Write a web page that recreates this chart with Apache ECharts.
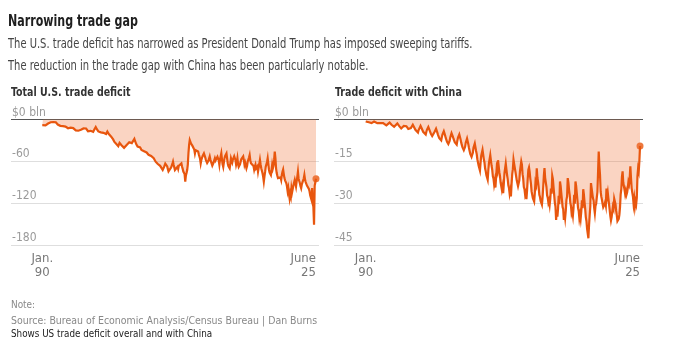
<!DOCTYPE html>
<html><head><meta charset="utf-8">
<script src="https://cdn.jsdelivr.net/npm/echarts@6/dist/echarts.min.js"></script>
<style>html,body{margin:0;padding:0;background:#fff}#c{width:683px;height:355px}</style>
</head><body><div id="c"></div>
<script>
// Monthly goods trade balance, $ bln, Jan 1990 .. June 2025 (one row per year)
const totalDeficit = [
-8.2,-9.1,-7.6,-9.8,-10.2,-8.5,-7.4,-8.6,-6.9,-5.8,-4.9,-4.2,
-5.6,-3.9,-4.8,-6.2,-5.1,-3.6,-3.1,-4.4,-5.3,-4.0,-5.8,-6.6,
-7.2,-6.1,-8.4,-7.6,-9.1,-8.3,-7.0,-8.8,-9.6,-10.4,-9.2,-10.8,
-10.1,-11.3,-9.8,-11.9,-12.6,-11.4,-10.5,-12.2,-11.7,-13.1,-12.0,-11.2,
-12.4,-13.8,-14.9,-13.5,-15.6,-14.2,-13.3,-14.9,-16.1,-14.6,-13.8,-15.3,
-14.8,-13.9,-15.7,-14.3,-12.8,-13.6,-12.1,-11.0,-12.9,-14.2,-15.6,-16.8,
-15.4,-16.5,-17.9,-16.2,-14.7,-15.8,-16.9,-17.6,-15.9,-14.1,-12.3,-10.8,
-12.6,-14.2,-15.9,-17.1,-16.3,-15.2,-16.8,-18.4,-17.5,-16.2,-17.8,-19.1,
-18.2,-17.4,-19.6,-20.8,-18.5,-17.2,-18.9,-20.6,-22.1,-23.4,-21.8,-24.6,
-25.8,-27.1,-28.6,-30.4,-32.2,-31.0,-33.5,-35.1,-33.9,-36.4,-38.2,-37.0,
-33.6,-35.1,-34.2,-36.8,-35.9,-37.4,-38.9,-40.6,-41.8,-40.2,-38.1,-36.5,
-35.2,-33.8,-34.9,-32.6,-31.1,-29.8,-31.5,-33.9,-36.2,-34.8,-31.2,-27.9,
-30.8,-33.4,-35.6,-37.2,-38.9,-37.6,-39.8,-41.2,-40.1,-42.3,-43.6,-41.9,
-44.2,-42.8,-45.5,-46.8,-44.9,-46.1,-47.3,-45.8,-48.2,-50.6,-49.4,-51.8,
-50.2,-52.4,-51.6,-53.8,-51.2,-55.6,-58.1,-56.4,-60.5,-58.9,-61.8,-63.5,
-62.1,-64.8,-63.2,-66.5,-65.1,-68.2,-66.9,-72.3,-70.6,-68.4,-66.2,-63.4,
-65.8,-63.0,-67.4,-71.2,-74.5,-73.2,-77.0,-72.6,-68.9,-66.1,-63.8,-60.5,
-65.2,-68.7,-72.4,-75.0,-71.3,-69.6,-67.8,-70.9,-66.4,-64.2,-68.5,-65.7,
-63.0,-67.4,-70.8,-74.6,-72.1,-78.3,-89.0,-80.2,-76.8,-72.5,-64.3,-48.0,
-36.5,-29.5,-31.8,-34.6,-33.2,-37.5,-40.1,-38.6,-43.2,-48.5,-44.0,-41.2,
-45.5,-42.0,-46.0,-49.8,-53.0,-56.4,-63.0,-58.1,-55.7,-52.3,-50.1,-48.5,
-48.5,-54.2,-57.8,-60.5,-62.4,-65.0,-59.3,-56.1,-53.0,-57.4,-60.5,-63.2,
-66.1,-68.0,-61.7,-58.6,-55.7,-58.9,-60.5,-56.2,-53.4,-51.0,-58.8,-65.0,
-57.3,-54.6,-48.5,-56.9,-64.2,-68.0,-61.4,-55.7,-52.1,-50.2,-48.5,-55.9,
-63.0,-66.8,-68.5,-70.0,-63.4,-55.7,-58.2,-61.6,-57.3,-54.8,-52.6,-51.0,
-58.4,-65.0,-61.3,-55.7,-63.8,-67.9,-70.0,-64.2,-60.5,-57.1,-55.4,-59.6,
-53.0,-58.6,-65.0,-61.8,-63.4,-70.0,-66.7,-60.5,-57.9,-54.6,-51.0,-58.3,
-62.7,-65.0,-60.5,-63.9,-66.8,-72.0,-68.1,-65.0,-70.2,-71.5,-67.3,-74.7,
-69.2,-63.8,-58.0,-64.5,-70.0,-73.6,-77.0,-82.1,-89.0,-81.4,-75.2,-67.6,
-67.6,-61.0,-55.7,-63.9,-72.0,-76.1,-74.3,-79.5,-72.8,-65.0,-70.2,-66.4,
-58.0,-46.0,-55.2,-70.0,-76.9,-80.8,-84.0,-82.6,-81.8,-84.3,-83.0,-86.6,
-79.6,-75.1,-72.0,-78.4,-84.0,-87.3,-89.5,-91.4,-96.2,-103.0,-98.4,-106.5,
-113.0,-106.2,-110.4,-98.5,-103.8,-101.0,-94.2,-92.8,-86.6,-91.5,-96.0,-88.7,
-82.4,-75.0,-84.9,-88.3,-91.4,-95.6,-98.5,-93.2,-90.1,-89.0,-84.6,-79.5,
-86.2,-89.8,-91.4,-94.7,-93.1,-96.0,-99.7,-103.0,-108.6,-111.2,-115.0,-98.5,
-118.0,-126.0,-151.0,-95.0,-90.0,-85.0
];
const chinaDeficit = [
-0.7,-0.5,-0.6,-0.8,-0.9,-1.0,-1.1,-1.1,-1.2,-1.3,-1.1,-0.9,
-1.0,-0.7,-0.6,-0.9,-1.1,-1.2,-1.3,-1.4,-1.5,-1.6,-1.3,-1.1,
-1.3,-0.9,-0.8,-1.3,-1.5,-1.7,-1.9,-2.0,-2.1,-2.3,-1.9,-1.5,
-1.6,-1.1,-1.0,-1.6,-1.9,-2.2,-2.4,-2.5,-2.6,-2.8,-2.3,-1.9,
-2.0,-1.4,-1.3,-2.0,-2.4,-2.7,-3.0,-3.2,-3.3,-3.5,-2.8,-2.3,
-2.3,-1.6,-1.6,-2.4,-2.8,-3.1,-3.4,-3.6,-3.7,-3.9,-3.1,-2.6,
-2.7,-1.9,-1.8,-2.8,-3.3,-3.7,-4.1,-4.3,-4.4,-4.7,-3.8,-3.1,
-3.2,-2.3,-2.2,-3.3,-3.9,-4.4,-4.8,-5.1,-5.2,-5.4,-4.4,-3.6,
-3.7,-2.7,-2.7,-3.9,-4.6,-5.1,-5.6,-5.9,-6.0,-6.4,-5.2,-4.3,
-4.4,-3.3,-3.2,-4.7,-5.5,-6.1,-6.7,-7.1,-7.3,-7.5,-6.3,-5.3,
-5.4,-4.2,-4.1,-5.7,-6.6,-7.3,-8.0,-8.5,-8.8,-9.2,-7.7,-6.5,
-6.0,-4.9,-4.7,-6.1,-6.9,-7.5,-8.1,-8.5,-8.6,-9.0,-7.6,-6.5,
-7.0,-5.4,-5.2,-7.2,-8.3,-9.2,-10.0,-10.6,-11.0,-11.6,-9.8,-8.3,
-8.6,-6.8,-6.5,-8.9,-10.2,-11.3,-12.3,-13.0,-13.4,-14.0,-11.9,-10.1,
-10.8,-8.6,-8.2,-11.3,-12.4,-14.3,-15.0,-16.6,-16.0,-18.3,-15.4,-13.0,
-13.6,-10.9,-10.5,-14.2,-15.4,-17.6,-18.6,-20.0,-19.4,-21.6,-18.2,-15.6,
-16.1,-12.8,-13.5,-16.6,-18.0,-20.4,-21.2,-23.3,-22.0,-24.4,-20.8,-17.4,
-18.4,-14.6,-15.2,-18.9,-20.2,-22.5,-23.0,-25.2,-24.0,-26.4,-22.9,-19.2,
-19.8,-15.8,-16.0,-19.9,-21.4,-23.6,-24.6,-26.6,-25.4,-27.6,-23.2,-19.6,
-17.8,-14.4,-15.9,-16.4,-18.8,-19.2,-21.8,-21.4,-23.9,-24.6,-21.8,-18.6,
-18.1,-15.1,-16.2,-19.6,-21.2,-24.2,-25.0,-27.0,-26.2,-28.6,-25.4,-21.4,
-18.0,-17.2,-18.8,-21.2,-23.0,-25.8,-26.4,-28.2,-27.6,-29.4,-26.4,-22.6,
-23.4,-17.5,-20.8,-22.4,-24.4,-27.0,-27.8,-29.2,-28.6,-30.5,-28.0,-24.2,
-20.2,-17.4,-20.9,-21.6,-24.2,-27.2,-28.0,-29.8,-29.0,-30.6,-28.4,-24.8,
-26.6,-20.2,-21.4,-24.2,-27.0,-29.8,-31.2,-36.0,-32.4,-34.8,-32.0,-27.4,
-30.4,-22.2,-23.8,-26.4,-28.8,-31.4,-32.2,-36.0,-33.2,-35.2,-32.6,-28.8,
-27.6,-21.0,-22.6,-25.2,-27.0,-29.8,-31.0,-33.6,-32.8,-34.4,-31.6,-27.0,
-30.2,-22.2,-23.8,-26.4,-29.0,-31.8,-32.8,-35.4,-34.0,-35.6,-33.0,-29.0,
-31.8,-25.0,-26.8,-29.6,-32.0,-35.0,-36.4,-39.2,-38.8,-42.6,-38.0,-34.4,
-31.0,-22.8,-23.2,-26.4,-28.2,-29.0,-31.8,-33.6,-31.0,-30.2,-28.0,-26.0,
-26.4,-11.5,-16.4,-19.8,-26.0,-27.6,-28.8,-30.2,-31.4,-32.0,-30.4,-29.6,
-30.8,-24.8,-27.6,-26.2,-28.4,-30.4,-32.4,-34.6,-36.2,-35.0,-33.0,-31.2,
-32.0,-28.4,-28.8,-30.4,-32.8,-34.4,-36.4,-37.0,-35.6,-34.2,-31.4,-26.8,
-25.0,-20.6,-18.6,-22.6,-23.2,-25.2,-26.8,-25.6,-27.0,-26.2,-24.6,-22.4,
-23.2,-21.0,-16.8,-21.0,-24.6,-26.2,-27.6,-30.2,-28.4,-31.2,-29.4,-30.4,
-28.0,-20.4,-17.6,-18.6,-14.8,-9.5
];
const xTickMonths = [0, 425];
const xTickLabels = ['Jan.\n90', 'June\n25'];
const totalYTicks = [-180, -120, -60, 0];
const chinaYTicks = [-45, -30, -15, 0];

const FONT = "'DejaVu Sans Condensed','DejaVu Sans',sans-serif";
const LINE = '#e8560e';
const FILL = 'rgba(240,122,66,0.46)';

function yAxis(idx, ticks) {
  return {
    gridIndex: idx, type: 'value',
    min: ticks[0], max: ticks[ticks.length - 1], interval: ticks[1] - ticks[0],
    axisLine: {show: false}, axisTick: {show: false},
    splitLine: {show: true, lineStyle: {width: 1, color: ['#dedede', '#dedede', '#dedede', '#555555']}},
    axisLabel: {
      inside: true, margin: 1, verticalAlign: 'bottom', lineHeight: 14,
      color: '#9a9a9a', fontSize: 12, fontFamily: FONT,
      formatter: v => v === 0 ? '$0 bln' : String(v)
    }
  };
}
function xAxis(idx, mn, mx) {
  return {
    gridIndex: idx, type: 'value', min: mn, max: mx,
    axisLine: {show: false}, axisTick: {show: false}, splitLine: {show: false},
    axisLabel: {
      customValues: xTickMonths, margin: 7, lineHeight: 14,
      color: '#777', fontSize: 13, fontFamily: FONT,
      alignMaxLabel: 'right',
      formatter: v => xTickLabels[xTickMonths.indexOf(v)] || ''
    }
  };
}
function lineSeries(idx, arr) {
  return {
    type: 'line', xAxisIndex: idx, yAxisIndex: idx,
    data: arr.map((v, i) => [i, v]),
    symbol: 'none', lineStyle: {color: LINE, width: 2.2, join: 'miter'},
    areaStyle: {color: FILL}, silent: true, animation: false
  };
}
function endDot(idx, arr) {
  return {
    type: 'scatter', xAxisIndex: idx, yAxisIndex: idx,
    data: [[arr.length - 1, arr[arr.length - 1]]],
    symbol: 'circle', symbolSize: 7, itemStyle: {color: LINE}, silent: true, animation: false
  };
}
function txt(x, y, s, font, fill, sx) {
  return {type: 'text', x: x, y: y, scaleX: sx, silent: true,
    style: {text: s, font: font, fill: fill, verticalAlign: 'middle', align: 'left'}};
}

const chart = echarts.init(document.getElementById('c'), null, {renderer: 'canvas'});
chart.setOption({
  animation: false,
  backgroundColor: '#fff',
  grid: [
    {left: 11, top: 119.5, width: 308, height: 125.5},
    {left: 334, top: 119.5, width: 309, height: 125.5}
  ],
  xAxis: [xAxis(0, -48.6, 429.7), xAxis(1, -49.1, 429.6)],
  yAxis: [yAxis(0, totalYTicks), yAxis(1, chinaYTicks)],
  series: [lineSeries(0, totalDeficit), endDot(0, totalDeficit), lineSeries(1, chinaDeficit), endDot(1, chinaDeficit)],
  graphic: [
    txt(8, 21.5, 'Narrowing trade gap', 'bold 16px ' + FONT, '#1f1f1f', 0.77),
    txt(8, 44.5, 'The U.S. trade deficit has narrowed as President Donald Trump has imposed sweeping tariffs.', '14px ' + FONT, '#454545', 0.79),
    txt(8, 66.2, 'The reduction in the trade gap with China has been particularly notable.', '14px ' + FONT, '#454545', 0.79),
    txt(11, 92.5, 'Total U.S. trade deficit', 'bold 12px ' + FONT, '#333', 0.875),
    txt(335, 92.5, 'Trade deficit with China', 'bold 12px ' + FONT, '#333', 0.88),
    txt(11, 305, 'Note:', '11px ' + FONT, '#888', 0.9),
    txt(11, 321, 'Source: Bureau of Economic Analysis/Census Bureau | Dan Burns', '11px ' + FONT, '#888', 0.95),
    txt(11, 334.5, 'Shows US trade deficit overall and with China', '11px ' + FONT, '#222', 0.89)
  ]
});
</script></body></html>
